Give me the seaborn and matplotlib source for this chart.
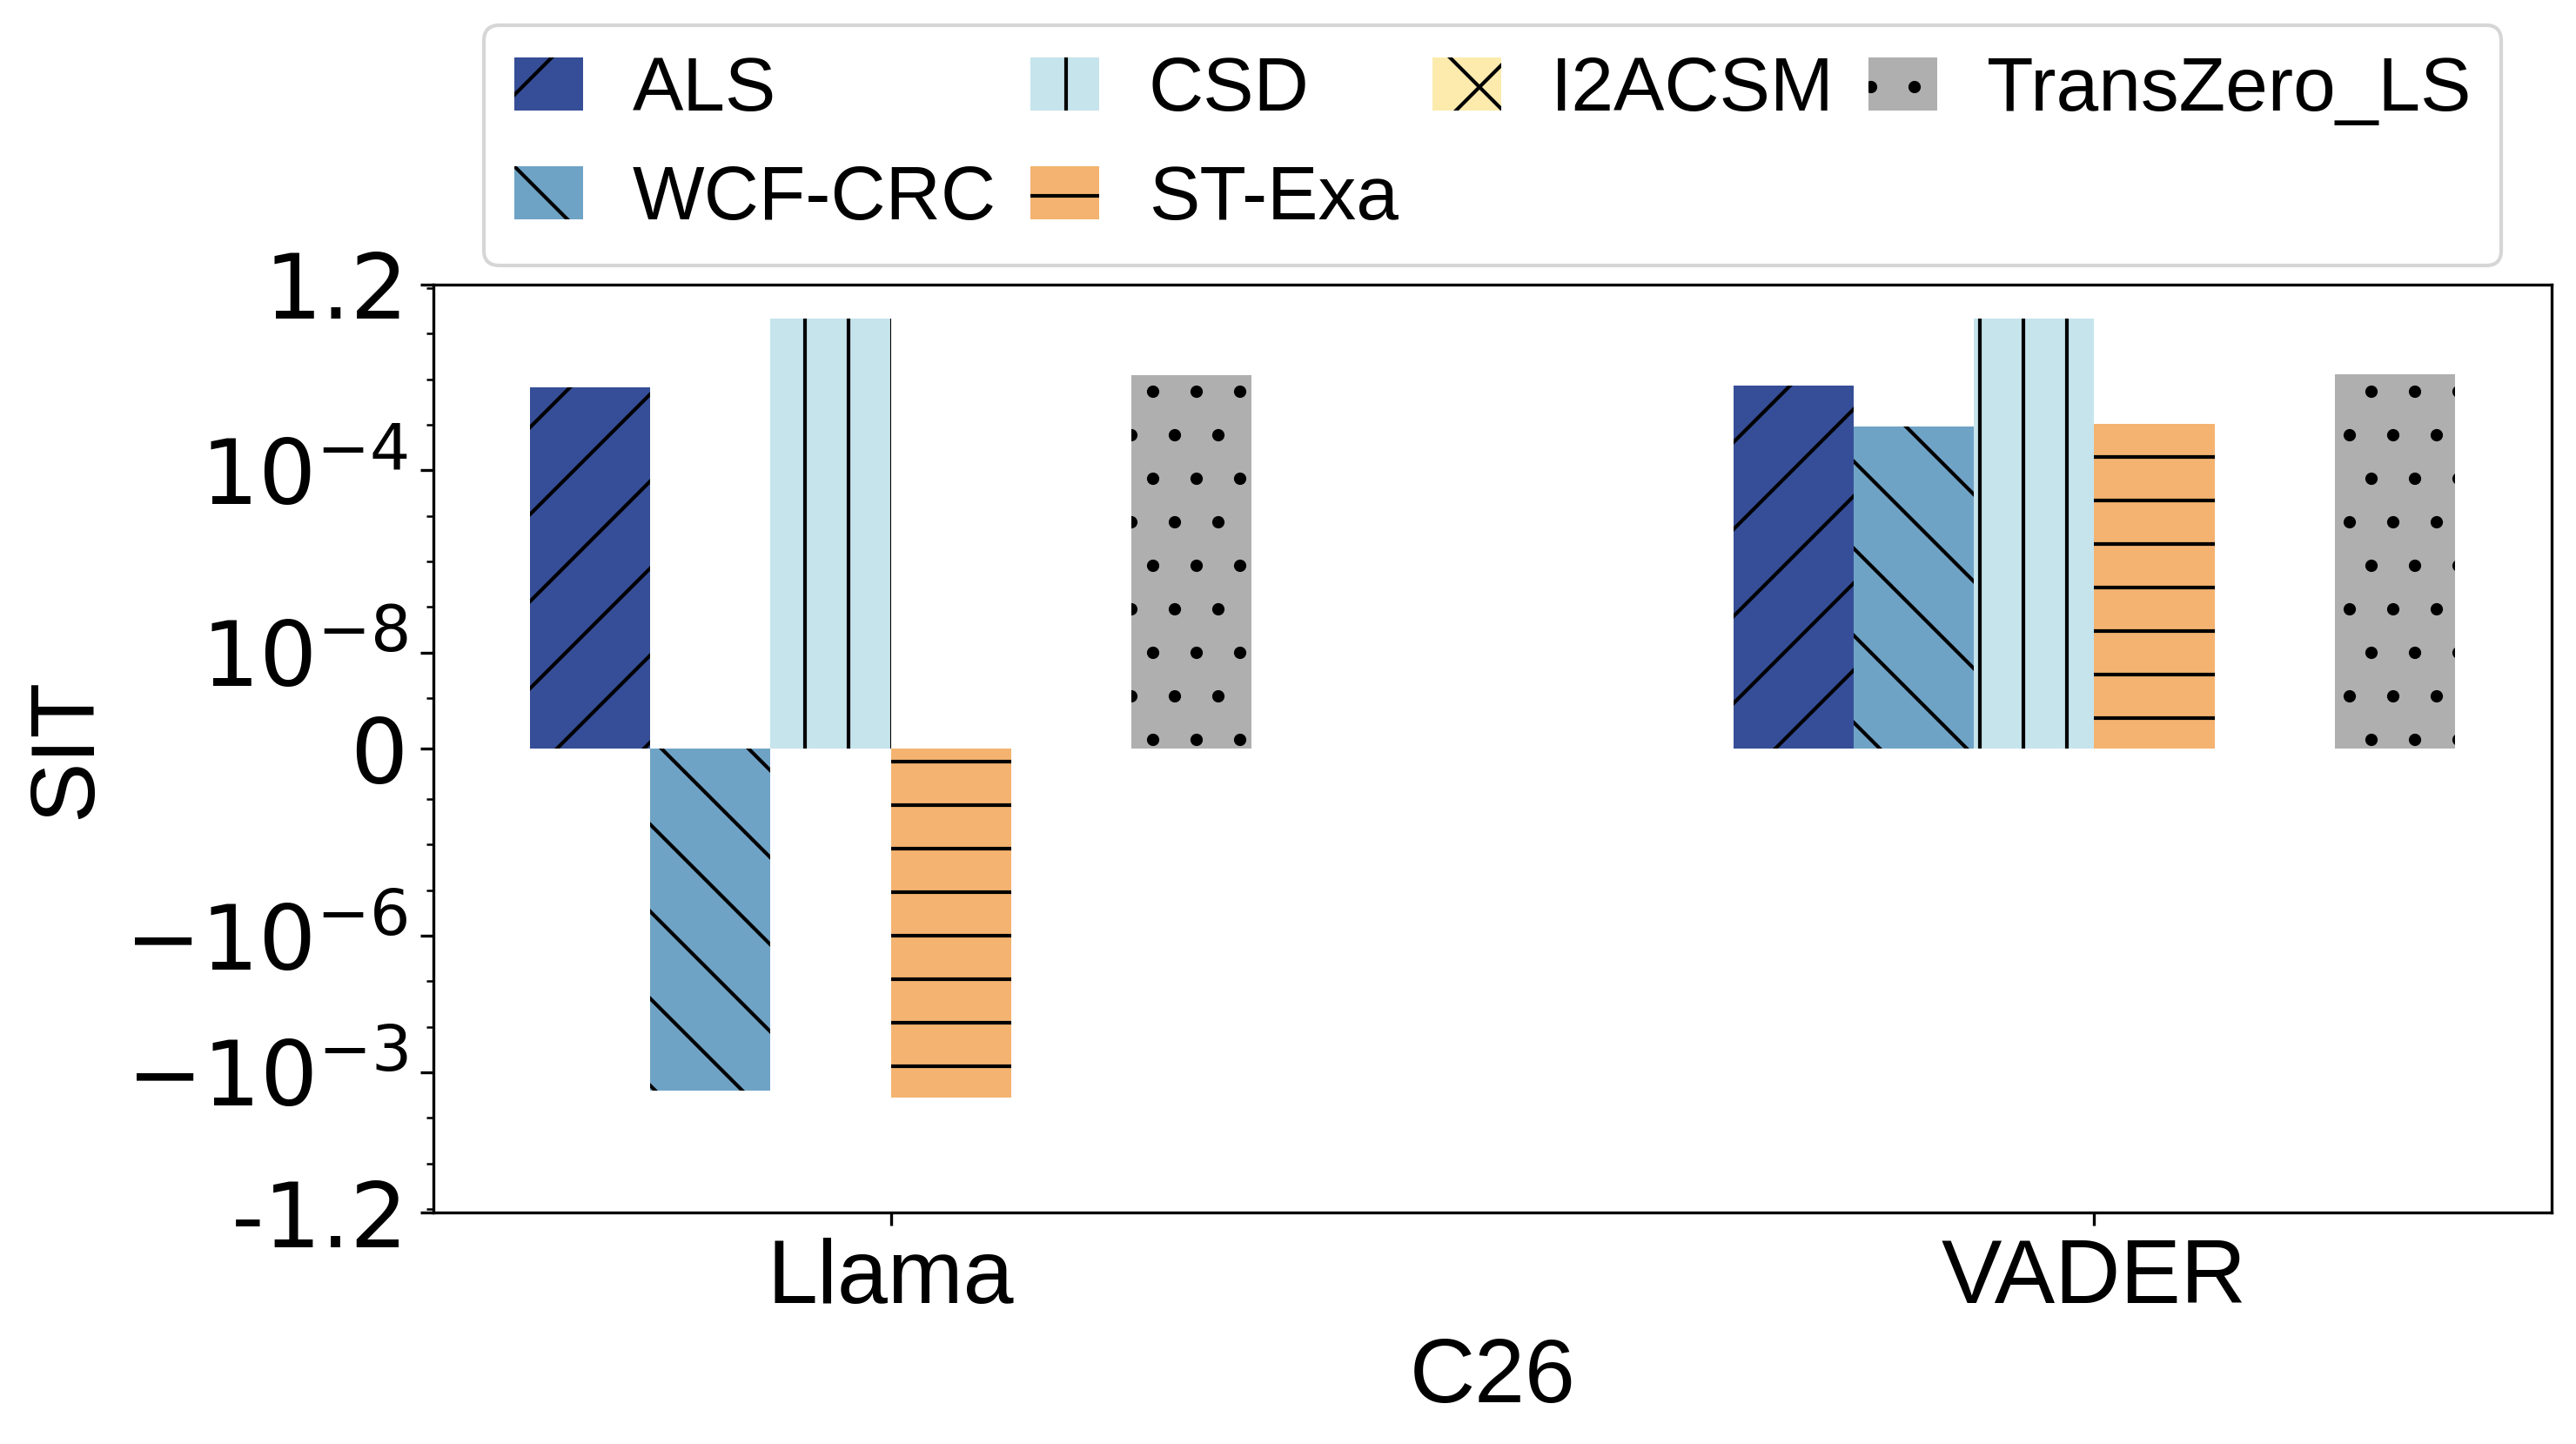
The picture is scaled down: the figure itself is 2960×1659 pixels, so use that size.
import numpy as np
import pandas as pd
import matplotlib
matplotlib.use('Agg')
import matplotlib.pyplot as plt
import seaborn as sns
from matplotlib.patches import Patch

# data
datasets = ['Llama', 'VADER']
methods = ['ALS', 'WCF-CRC', 'CSD', 'ST-Exa', 'I2ACSM', 'TransZero_LS']
llama_vals = [6.7e-3, -2.5e-3, 0.22, -3.6e-3, np.nan, 1.24e-2]
vader_vals = [7.3e-3, 9.2e-4, 0.22, 1.05e-3, np.nan, 1.29e-2]

colors = ['#364e97', '#6fa3c6', '#c6e4ec', '#f4b370', '#fcebad', '#afafaf']
hatches = ['/', '\\', '|', '-', 'x', '.']

ytick_vals = [1.2, 1e-4, 1e-8, 0, -1e-6, -1e-3, -1.2]
ytick_labels = ['1.2', r'$10^{-4}$', r'$10^{-8}$', '0', r'$-10^{-6}$', r'$-10^{-3}$', '-1.2']

rows = []
for d, vals in zip(datasets, [llama_vals, vader_vals]):
    for m, v in zip(methods, vals):
        rows.append({'dataset': d, 'method': m, 'SIT': v})
df = pd.DataFrame(rows)

plt.rcParams['hatch.linewidth'] = 1.0
arial = 'Liberation Sans'
bar_w = 0.6

fig = plt.figure(figsize=(2961/300, 1659/300), dpi=300)
ax = fig.add_axes([0.1682, 0.1603, 0.9902-0.1682, 0.8029-0.1603])

palette = dict(zip(methods, colors))
sns.barplot(data=df, x='dataset', y='SIT', hue='method', hue_order=methods,
            order=datasets, palette=palette, width=bar_w, errorbar=None,
            edgecolor='black', linewidth=0, saturation=1, legend=False, ax=ax)

# hatch each bar by its slot inside the group
n = len(methods)
for bar in ax.patches:
    xc = bar.get_x() + bar.get_width() / 2
    k = int(round((xc - round(xc)) / (bar_w / n) + (n - 1) / 2))
    bar.set_hatch(hatches[k])

ax.set_yscale('symlog', linthresh=1e-9)
ax.set_ylim(-1.2, 1.2)
ax.set_xlim(-0.38, 1.38)
ax.set_yticks(ytick_vals, labels=ytick_labels)
for lab in ax.get_yticklabels():
    lab.set_fontfamily('DejaVu Sans')
    lab.set_fontsize(25)
for lab in ax.get_xticklabels():
    lab.set_fontfamily(arial)
    lab.set_fontsize(25)

ax.set_xlabel('C26', fontsize=25, fontfamily=arial)
ax.set_ylabel('SIT', fontsize=25, fontfamily=arial)

handles = [Patch(facecolor=c, hatch=h, edgecolor='black', linewidth=0, label=m)
           for m, c, h in zip(methods, colors, hatches)]
ax.legend(handles=handles, ncol=4, loc='lower center', bbox_to_anchor=(0.5, 1.0),
          borderaxespad=0.25, prop={'family': arial, 'size': 21},
          handlelength=0.9, handleheight=0.7, handletextpad=0.65,
          columnspacing=0.45, labelspacing=0.5)

fig.savefig('out.png', dpi=300)
